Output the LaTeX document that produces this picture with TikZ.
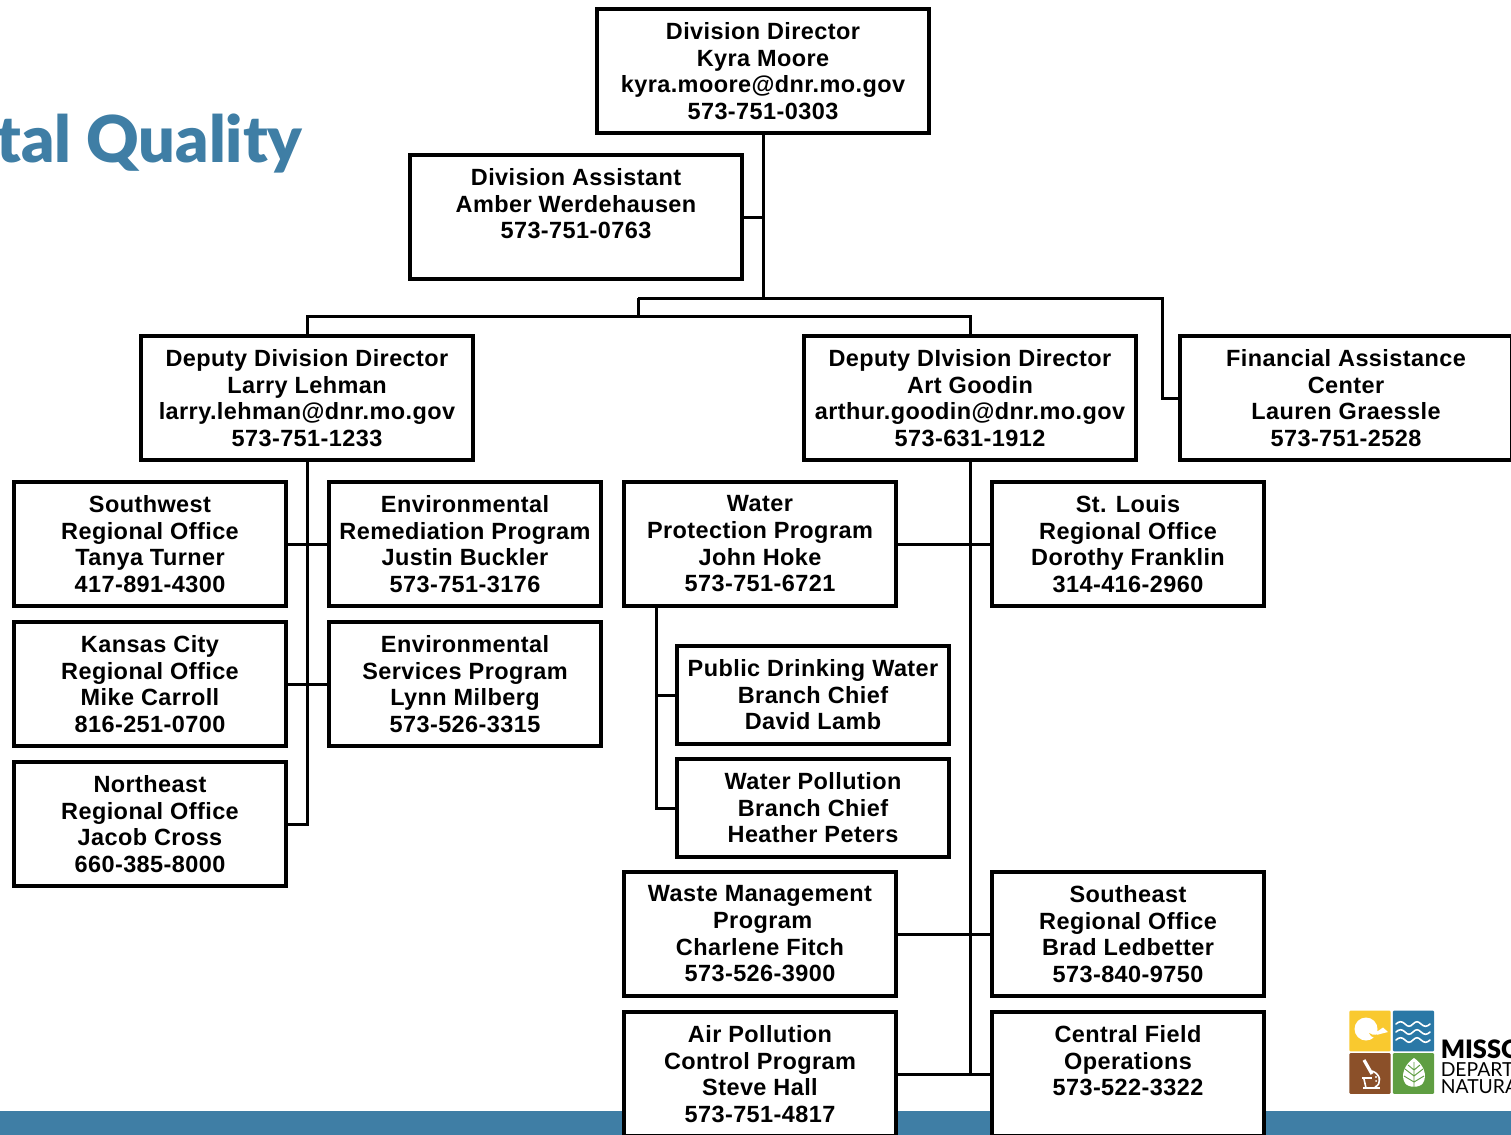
\documentclass[tikz,border=0pt]{standalone}
\usepackage{fontspec}
\setmainfont{Liberation Sans}[LetterSpace=1.8]
\newfontfamily\titlefont{Lato Black}
\newfontfamily\logofont{Lato}
\definecolor{barblue}{HTML}{3F7EA5}
\definecolor{logoyellow}{HTML}{F9C92F}
\definecolor{logoblue}{HTML}{2A78A6}
\definecolor{logobrown}{HTML}{8B5029}
\definecolor{logogreen}{HTML}{5F9E42}
\tikzset{
  orgbox/.style={draw=black,fill=white,line width=3pt,rectangle,align=center,inner sep=0pt,
    font=\fontsize{17.6}{20}\selectfont\bfseries,text=black},
  wide/.style={orgbox,minimum width=248.5pt,minimum height=93pt},
  narrow/.style={orgbox,minimum width=204pt,minimum height=93pt},
  short/.style={orgbox,minimum width=204pt,minimum height=73.5pt,font=\fontsize{17.6}{19.8}\selectfont\bfseries},
  link/.style={draw=black,line width=2.25pt,xshift=0.375pt,yshift=0.1pt},
  logotile/.style={rectangle,rounded corners=0.8pt,inner sep=0pt,minimum width=31pt,minimum height=30.5pt},
  logotext/.style={anchor=base west,inner sep=0pt,text=black}
}
\begin{document}
\begin{tikzpicture}[x=0.75pt,y=-0.75pt]
\useasboundingbox (0,0) rectangle (1511,1135);
\clip (0,0) rectangle (1511,1135);
\fill[barblue] (0,1111) rectangle (1511,1135);
\node[anchor=base west,inner sep=0pt,text=barblue,font=\titlefont\fontsize{48.5}{48.5}\selectfont] (title) at (-4,162) {tal Quality};

% junctions
\coordinate (j1) at (763,298);
\coordinate (j2) at (638,298);
\coordinate (j3) at (638,316);
\coordinate (j4) at (1162,298);

\node[wide] (director) at (763,71) {Division Director\\Kyra Moore\\kyra.moore@dnr.mo.gov\\573-751-0303};
\node[wide] (assistant) at (576,217) {Division Assistant\\Amber Werdehausen\\573-751-0763\\~};
\node[wide] (deputyl) at (307,398) {Deputy Division Director\\Larry Lehman\\larry.lehman@dnr.mo.gov\\573-751-1233};
\node[wide] (deputyr) at (970,398) {Deputy DIvision Director\\Art Goodin\\arthur.goodin@dnr.mo.gov\\573-631-1912};
\node[wide] (finance) at (1346,398) {Financial Assistance\\Center\\Lauren Graessle\\573-751-2528};

\node[narrow] (sw) at (150,544) {Southwest\\Regional Office\\Tanya Turner\\417-891-4300};
\node[narrow] (kc) at (150,684) {Kansas City\\Regional Office\\Mike Carroll\\816-251-0700};
\node[narrow] (ne) at (150,824) {Northeast\\Regional Office\\Jacob Cross\\660-385-8000};
\node[narrow] (erp) at (465,544) {Environmental\\Remediation Program\\Justin Buckler\\573-751-3176};
\node[narrow] (esp) at (465,684) {Environmental\\Services Program\\Lynn Milberg\\573-526-3315};

\node[narrow] (water) at (760,544) {Water\\Protection Program\\John Hoke\\573-751-6721};
\node[narrow] (stl) at (1128,544) {St. Louis\\Regional Office\\Dorothy Franklin\\314-416-2960};
\node[short] (pdw) at (813,695) {Public Drinking Water\\Branch Chief\\David Lamb};
\node[short] (wpb) at (813,808) {Water Pollution\\Branch Chief\\Heather Peters};
\node[narrow] (waste) at (760,934) {Waste Management\\\hspace{4pt}Program\\Charlene Fitch\\573-526-3900};
\node[narrow] (se) at (1128,934) {Southeast\\Regional Office\\Brad Ledbetter\\573-840-9750};
\node[narrow] (air) at (760,1074) {Air Pollution\\Control Program\\Steve Hall\\573-751-4817};
\node[narrow] (cfo) at (1128,1074) {Central Field\\Operations\\573-522-3322\\~};

% connectors
\coordinate (ja) at (director.south |- assistant.east);
\coordinate (jl) at (deputyl.north |- j3);
\coordinate (jr) at (deputyr.north |- j3);
\coordinate (jf) at (j4 |- finance.west);
\coordinate (tl3) at (deputyl.south |- ne.east);
\coordinate (tr3) at (deputyr.south |- air.east);
\coordinate (w1) at (656,695);
\coordinate (w2) at (656,808);

\draw[link] (director.south) -- (j1);
\draw[link] (assistant.east) -- (ja);
\draw[link] (j2) -- (j4) -- (jf) -- (finance.west);
\draw[link] (j2) -- (j3);
\draw[link] (deputyl.north) -- (jl) -- (jr) -- (deputyr.north);
\draw[link] (deputyl.south) -- (tl3) -- (ne.east);
\draw[link] (sw.east) -- (erp.west);
\draw[link] (kc.east) -- (esp.west);
\draw[link] (deputyr.south) -- (tr3);
\draw[link] (water.east) -- (stl.west);
\draw[link] (waste.east) -- (se.west);
\draw[link] (air.east) -- (cfo.west);
\draw[link] (water.south -| w1) -- (w2) -- (wpb.west);
\draw[link] (w1) -- (pdw.west);

% logo
\node[logotile,fill=logoyellow] (ty) at (1370,1031) {};
\node[logotile,fill=logoblue] (tb) at (1413.5,1031) {};
\node[logotile,fill=logobrown] (tr) at (1370,1073.5) {};
\node[logotile,fill=logogreen] (tg) at (1413.5,1073.5) {};
% sun and bird
\fill[white] (1366,1029) circle (11.5);
\fill[logoyellow] (1369,1033) .. controls (1373,1036) and (1378,1035) .. (1380,1032) -- (1388,1031.5) -- (1380,1036) .. controls (1376,1039) and (1371,1038) .. (1369,1033);
\fill[white] (1372,1029) -- (1378,1031) -- (1383,1027.5) -- (1388,1032) -- (1380,1034) .. controls (1377,1036) and (1373,1034) .. (1372,1029);
% waves
\foreach \yy in {1024,1032,1040}{
  \draw[white,line width=1.2pt,line cap=round] (1396,\yy)
    .. controls (1399,\yy-3) and (1402,\yy-3) .. (1405,\yy)
    .. controls (1408,\yy+3) and (1410,\yy+3) .. (1413,\yy)
    .. controls (1416,\yy-3) and (1418,\yy-3) .. (1421,\yy)
    .. controls (1424,\yy+3) and (1427,\yy+3) .. (1430,\yy);
}
% microscope
\draw[white,line width=2.4pt] (1364,1060) -- (1372,1074);
\draw[white,line width=1.2pt] (1372,1071) .. controls (1381,1074) and (1382,1084) .. (1375,1087);
\draw[white,line width=1.8pt] (1363,1088) -- (1380,1088);
\draw[white,line width=1.2pt] (1364,1079) -- (1366,1088);
\draw[white,line width=1pt] (1362,1078) -- (1372,1078);
\fill[white] (1376,1077) circle (1.1) (1379,1079) circle (1) (1376,1081) circle (1);
% leaf
\fill[white] (1414,1058) .. controls (1423,1064) and (1428,1075) .. (1423,1083) .. controls (1420,1088) and (1408,1088) .. (1405,1083) .. controls (1400,1075) and (1405,1064) .. (1414,1058);
\draw[logogreen,line width=0.7pt] (1414,1062) -- (1414,1087)
  (1414,1070) -- (1408,1065) (1414,1070) -- (1420,1065)
  (1414,1076) -- (1405,1069) (1414,1076) -- (1423,1069)
  (1414,1082) -- (1404,1076) (1414,1082) -- (1424,1076);

\node[logotext,font=\titlefont\fontsize{19}{19}\selectfont] (logoa) at (1440.5,1058) {MISSO};
\node[logotext,font=\logofont\fontsize{14.5}{14.5}\selectfont] (logob) at (1440.5,1076) {DEPART};
\node[logotext,font=\logofont\fontsize{14.5}{14.5}\selectfont] (logoc) at (1440.5,1093) {NATURA};
\end{tikzpicture}
\end{document}
